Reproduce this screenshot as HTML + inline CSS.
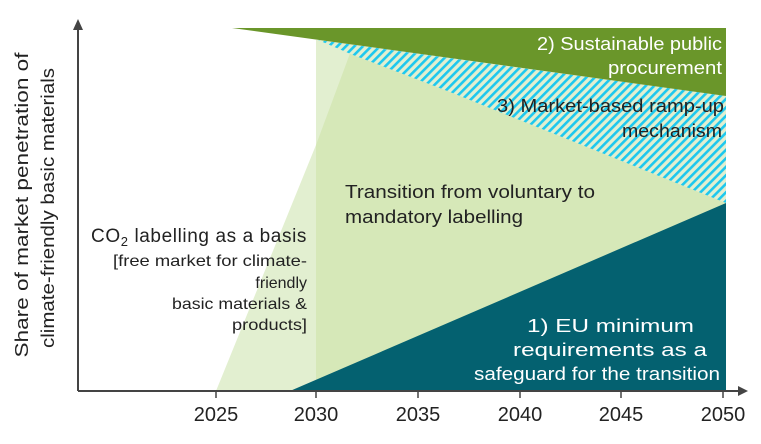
<!DOCTYPE html>
<html><head><meta charset="utf-8"><style>
html,body{margin:0;padding:0;background:#fff}
svg{display:block}
text{font-family:"Liberation Sans",sans-serif}
</style></head><body>
<svg width="761" height="444" viewBox="0 0 761 444" xmlns="http://www.w3.org/2000/svg">
<defs>
<pattern id="h" patternUnits="userSpaceOnUse" width="6" height="6" patternTransform="rotate(45)">
<rect width="6" height="6" fill="#e2efd0"/>
<rect width="2.6" height="6" fill="#1ec8ee"/>
</pattern>
</defs>
<polygon points="316,40 726,96 726,391 316,391" fill="#d6e8b8"/>
<polygon points="216,391 316,391 316,145" fill="#e2efd0"/>
<polygon points="316,145 355,40 316,40" fill="#e2efd0"/>
<polygon points="318,40 726,96 726,203 450,92 353,55" fill="url(#h)"/>
<polygon points="232,28 726,28 726,96" fill="#6a962a"/>
<polygon points="290,391 726,203 726,391" fill="#046170"/>
<line x1="78" y1="391" x2="740" y2="391" stroke="#444" stroke-width="2"/>
<polygon points="748,391 738,386 738,396" fill="#444"/>
<line x1="78" y1="391" x2="78" y2="28" stroke="#444" stroke-width="2"/>
<polygon points="78,19 73,30 83,30" fill="#444"/>
<g stroke="#444" stroke-width="1.5">
<line x1="216" y1="391" x2="216" y2="398"/><line x1="316" y1="391" x2="316" y2="398"/>
<line x1="418" y1="391" x2="418" y2="398"/><line x1="520" y1="391" x2="520" y2="398"/>
<line x1="621" y1="391" x2="621" y2="398"/><line x1="723" y1="391" x2="723" y2="398"/>
</g>
<g font-size="20" fill="#222" text-anchor="middle">
<text x="216" y="421">2025</text><text x="316" y="421">2030</text><text x="418" y="421">2035</text>
<text x="520" y="421">2040</text><text x="621" y="421">2045</text><text x="723" y="421">2050</text>
</g>
<g font-size="18" fill="#222" text-anchor="middle">
<text transform="translate(28,205) rotate(-90)" textLength="305" lengthAdjust="spacingAndGlyphs">Share of market penetration of</text>
<text transform="translate(54,208) rotate(-90)" textLength="280" lengthAdjust="spacingAndGlyphs">climate-friendly basic materials</text>
</g>
<g font-size="18" fill="#fff" text-anchor="end">
<text x="722" y="50" textLength="185" lengthAdjust="spacingAndGlyphs">2) Sustainable public</text>
<text x="722" y="74" textLength="114" lengthAdjust="spacingAndGlyphs">procurement</text>
</g>
<g font-size="18" fill="#222" text-anchor="end">
<text x="724" y="112" textLength="227" lengthAdjust="spacingAndGlyphs">3) Market-based ramp-up</text>
<text x="722" y="137" textLength="100" lengthAdjust="spacingAndGlyphs">mechanism</text>
</g>
<g font-size="18" fill="#222">
<text x="345" y="198" textLength="250" lengthAdjust="spacingAndGlyphs">Transition from voluntary to</text>
<text x="345" y="223" textLength="178" lengthAdjust="spacingAndGlyphs">mandatory labelling</text>
</g>
<g fill="#222" text-anchor="end">
<text x="307" y="242" font-size="19" letter-spacing="0.6">CO<tspan font-size="13" dy="4">2</tspan><tspan dy="-4"> labelling as a basis</tspan></text>
<text x="307" y="266" font-size="16" textLength="194" lengthAdjust="spacingAndGlyphs">[free market for climate-</text>
<text x="307" y="288" font-size="16">friendly</text>
<text x="307" y="309" font-size="16" textLength="135" lengthAdjust="spacingAndGlyphs">basic materials &amp;</text>
<text x="307" y="330" font-size="16" textLength="75" lengthAdjust="spacingAndGlyphs">products]</text>
</g>
<g font-size="18" fill="#fff">
<text x="527" y="332" textLength="167" lengthAdjust="spacingAndGlyphs">1) EU minimum</text>
<text x="513" y="356" textLength="194" lengthAdjust="spacingAndGlyphs">requirements as a</text>
<text x="474" y="380" textLength="246" lengthAdjust="spacingAndGlyphs">safeguard for the transition</text>
</g>
</svg>
</body></html>
